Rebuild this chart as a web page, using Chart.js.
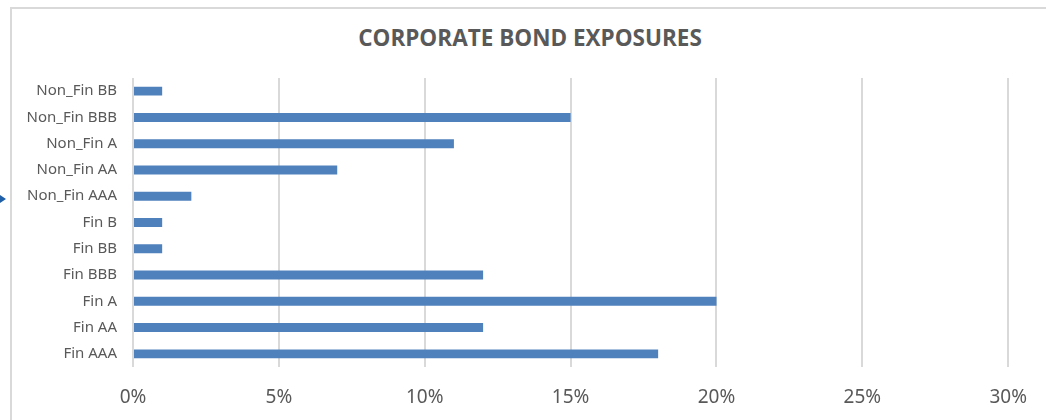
<!DOCTYPE html>
<html lang="en">
<head>
    <meta charset="UTF-8">
    <title>Corporate Bond Exposures</title>
    <script src="https://cdn.jsdelivr.net/npm/chart.js"></script>
    <style>
        body {
            margin: 0;
            padding: 0;
            background-color: #fff;
            overflow: hidden;
        }

        .frame {
            position: absolute;
            left: 10px;
            top: 7px;
            width: 1100px;
            height: 500px;
            border-top: 2px solid #d9d9d9;
            border-left: 2px solid #d9d9d9;
        }

        .marker {
            position: absolute;
            left: 0;
            top: 195px;
            width: 0;
            height: 0;
            border-top: 4px solid transparent;
            border-bottom: 4px solid transparent;
            border-left: 6px solid #1f5fa8;
        }

        .chart-title {
            position: absolute;
            left: 0;
            top: 24px;
            width: 1060px;
            text-align: center;
            font-family: 'Open Sans', sans-serif;
            font-weight: bold;
            font-size: 22.5px;
            line-height: 27px;
            color: #595959;
        }

        .chart-box {
            position: absolute;
            left: 0;
            top: 0;
            width: 1046px;
            height: 420px;
        }
    </style>
</head>
<body>
    <div class="frame"></div>
    <div class="marker"></div>
    <div class="chart-title">CORPORATE BOND EXPOSURES</div>
    <div class="chart-box">
        <canvas id="bondChart"></canvas>
    </div>

    <script>
        const categories = ['Non_Fin BB', 'Non_Fin BBB', 'Non_Fin A', 'Non_Fin AA', 'Non_Fin AAA',
                            'Fin B', 'Fin BB', 'Fin BBB', 'Fin A', 'Fin AA', 'Fin AAA'];
        const exposures = [1, 15, 11, 7, 2, 1, 1, 12, 20, 12, 18];   // percent
        const tickMax = 30;
        const tickStep = 5;

        const textColor = '#595959';

        const ctx = document.getElementById('bondChart').getContext('2d');
        new Chart(ctx, {
            type: 'bar',
            data: {
                labels: categories,
                datasets: [
                    {
                        label: 'Exposure',
                        data: exposures,
                        backgroundColor: '#4f81bd',
                        categoryPercentage: 1,
                        barPercentage: 0.34,
                    },
                ],
            },
            options: {
                indexAxis: 'y',
                responsive: true,
                maintainAspectRatio: false,
                animation: false,
                layout: {
                    padding: { left: 0, right: 36, top: 78, bottom: 0 },
                },
                plugins: {
                    legend: { display: false },
                    tooltip: { enabled: false },
                },
                scales: {
                    x: {
                        min: 0,
                        max: tickMax,
                        ticks: {
                            stepSize: tickStep,
                            color: textColor,
                            padding: 19,
                            font: { family: 'Noto Sans', size: 19 },
                            callback: function(value) { return value + '%'; },
                        },
                        grid: { color: '#d9d9d9', lineWidth: 2, drawTicks: false },
                        border: { display: false },
                        afterFit: function(scale) { scale.height = 53; },
                    },
                    y: {
                        ticks: {
                            color: textColor,
                            padding: 16,
                            autoSkip: false,
                            font: { family: 'Noto Sans', size: 15 },
                        },
                        grid: { display: false, drawTicks: false },
                        border: { display: false },
                        afterFit: function(scale) { scale.width = 133; },
                    },
                },
            },
        });
    </script>
</body>
</html>
